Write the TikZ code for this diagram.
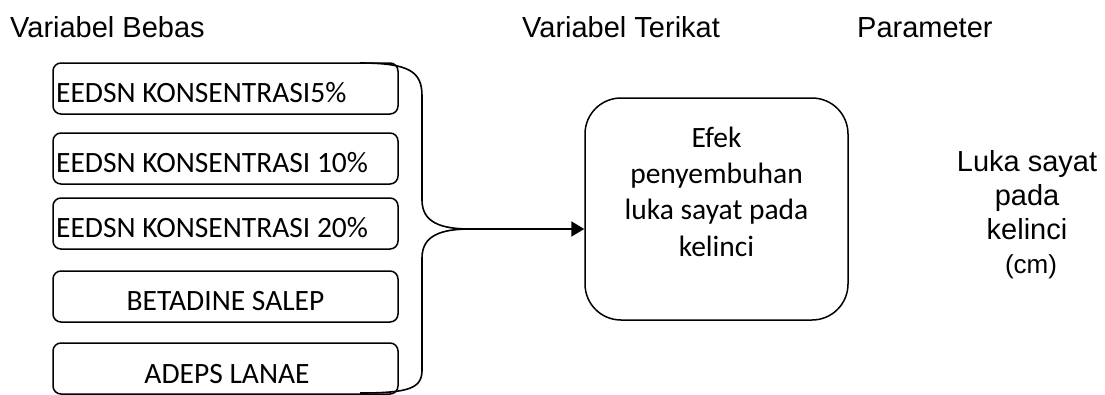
\documentclass[tikz,border=0pt]{standalone}
\usepackage{fontspec}
\setmainfont{Carlito}
\newfontfamily\arialfont{Liberation Sans}
\usetikzlibrary{arrows.meta}
\tikzset{
  boxtext/.style={font=\fontsize{29.5}{36.3}\selectfont, inner sep=0pt, anchor=base},
  headtext/.style={font=\arialfont\fontsize{29}{34}\selectfont, inner sep=0pt, anchor=base west},
  varbox/.style={draw, line width=1.5pt, rounded corners=8pt, inner sep=0pt},
  bigbox/.style={draw, line width=1.5pt, rounded corners=36pt, inner sep=0pt},
  brace/.style={line width=1.6pt},
  link/.style={line width=2pt, -{Triangle[length=13pt,width=15pt]}}
}
\begin{document}
\begin{tikzpicture}[x=1pt,y=-1pt]
\useasboundingbox (0,0) rectangle (1105,394);

% column headings
\node[headtext] (hBebas) at (10,37) {Variabel Bebas};
\node[headtext] (hTerikat) at (522,37) {Variabel Terikat};
\node[headtext] (hParam) at (857,37) {Parameter};

% independent variables
\node[varbox, minimum width=345pt, minimum height=51pt] (b1) at (225.5,88.5) {};
\node[varbox, minimum width=345pt, minimum height=51pt] (b2) at (225.5,158.5) {};
\node[varbox, minimum width=345pt, minimum height=51pt] (b3) at (225.5,223.5) {};
\node[varbox, minimum width=345pt, minimum height=51pt] (b4) at (225.5,296.5) {};
\node[varbox, minimum width=345pt, minimum height=51pt] (b5) at (225.5,368.5) {};

\node[boxtext, anchor=base west] (t1) at (56,102) {EEDSN KONSENTRASI5\%};
\node[boxtext, anchor=base west] (t2) at (56,172) {EEDSN KONSENTRASI 10\%};
\node[boxtext, anchor=base west] (t3) at (56,237) {EEDSN KONSENTRASI 20\%};
\node[boxtext] (t4) at (225.5,310) {BETADINE SALEP};
\node[boxtext] (t5) at (227,383) {ADEPS LANAE};

% grouping brace
\coordinate (tip) at (470,229);
\draw[brace] (360,63) .. controls (410,63) and (422,72) .. (422,96)
  -- (422,200) .. controls (422,222) and (440,229) .. (tip)
  .. controls (440,229) and (422,236) .. (422,258)
  -- (422,370) .. controls (422,388) and (410,393) .. (360,393);

% dependent variable
\node[bigbox, minimum width=263pt, minimum height=222pt] (eff) at (716.5,209) {};
\node[boxtext, align=center, anchor=base] (efftext) at (716.5,256)
  {Efek\\penyembuhan\\luka sayat pada\\kelinci};

\draw[link] (tip) -- (tip -| eff.west);

% parameter
\node[font=\arialfont\fontsize{29}{33.7}\selectfont, inner sep=0pt, align=center, anchor=base] (param) at (1027,273)
  {Luka sayat\\pada\\kelinci\\\hspace*{8pt}{\fontsize{26}{33.7}\selectfont(cm)}};
\end{tikzpicture}
\end{document}
